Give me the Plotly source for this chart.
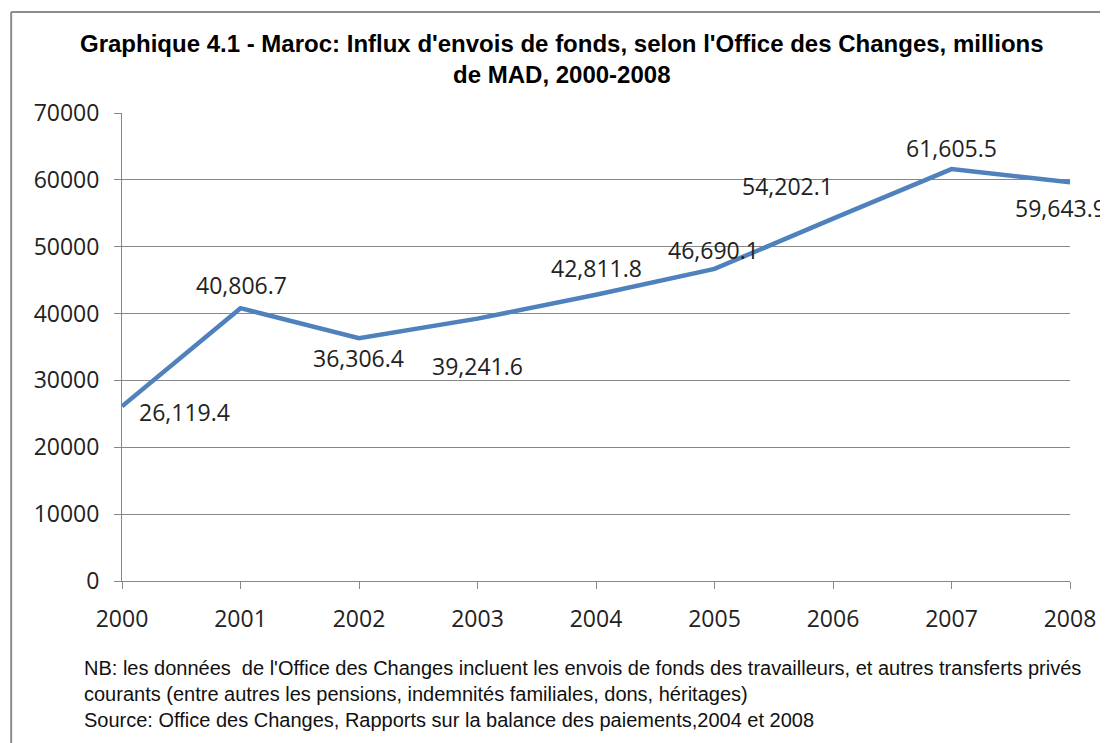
import plotly.graph_objects as go

years = [2000, 2001, 2002, 2003, 2004, 2005, 2006, 2007, 2008]
remittances = [26119.4, 40806.7, 36306.4, 39241.6, 42811.8, 46690.1, 54202.1, 61605.5, 59643.9]
# label offsets in pixels (dx, dy) relative to each point
label_offsets = [(62, -6), (1, 23), (-1, -20), (0, -47), (0, 27), (-1, 19), (-46, 33), (0, 21), (-10, -26)]

title = ("<b>Graphique 4.1 - Maroc: Influx d'envois de fonds, selon l'Office des Changes, millions"
         "<br>de MAD, 2000-2008</b>")
note_lines = [
    "NB: les données  de l'Office des Changes incluent les envois de fonds des travailleurs, et autres transferts privés",
    "courants (entre autres les pensions, indemnités familiales, dons, héritages)",
    "Source: Office des Changes, Rapports sur la balance des paiements,2004 et 2008",
]

blue = "#4F81BD"
grey = "#878787"
num_font = dict(family="Open Sans", size=23, color="#222222")

# page has an 8px body margin, so the figure is a bit smaller than the window
W, H = 1100, 735
ML, MR, MT, MB = 114, 28, 105, 162
pw, ph = W - ML - MR, H - MT - MB

fig = go.Figure()
fig.add_trace(go.Scatter(x=years, y=remittances, mode="lines",
                         line=dict(color=blue, width=4.5), hoverinfo="x+y"))

for yr, v, (dx, dy) in zip(years, remittances, label_offsets):
    fig.add_annotation(x=yr, y=v, text=f"{v:,.1f}", showarrow=False,
                       xshift=dx, yshift=dy, font=num_font)

fig.add_annotation(xref="paper", yref="paper", x=0.5, y=1.0, xshift=-34, yshift=54,
                   yanchor="middle", text=title, showarrow=False, align="center",
                   font=dict(family="Liberation Sans", size=24, color="black"))

fig.add_annotation(xref="paper", yref="paper", x=-40 / pw, y=0, yshift=-74,
                   xanchor="left", yanchor="top", align="left",
                   text="<br>".join(note_lines), showarrow=False,
                   font=dict(family="Liberation Sans", size=20, color="#111111"))

# chart frame (left and top edges visible, the rest is cropped)
fx = (2 - ML) / pw
fy = 1 + (MT - 4) / ph
fig.add_shape(type="line", xref="paper", yref="paper", x0=fx, x1=fx, y0=fy, y1=-0.4,
              line=dict(color="#8c8c8c", width=2))
fig.add_shape(type="line", xref="paper", yref="paper", x0=fx, x1=1.1, y0=fy, y1=fy,
              line=dict(color="#8c8c8c", width=2))

fig.update_xaxes(range=[2000, 2008], tickvals=years, ticktext=[str(y) for y in years],
                 showgrid=False, showline=True, linecolor=grey, linewidth=1,
                 ticks="outside", ticklen=7, tickcolor=grey, tickfont=num_font,
                 ticklabelstandoff=10, zeroline=False)
fig.update_yaxes(range=[0, 70000], tickvals=list(range(0, 70001, 10000)),
                 tickformat="d", showgrid=True, gridcolor=grey, gridwidth=1,
                 showline=True, linecolor=grey, linewidth=1,
                 ticks="outside", ticklen=7, tickcolor=grey, tickfont=num_font,
                 ticklabelstandoff=10, zeroline=False)

fig.update_layout(width=W, height=H, showlegend=False,
                  margin=dict(l=ML, r=MR, t=MT, b=MB),
                  paper_bgcolor="white", plot_bgcolor="white")

fig.write_html("out.html")
